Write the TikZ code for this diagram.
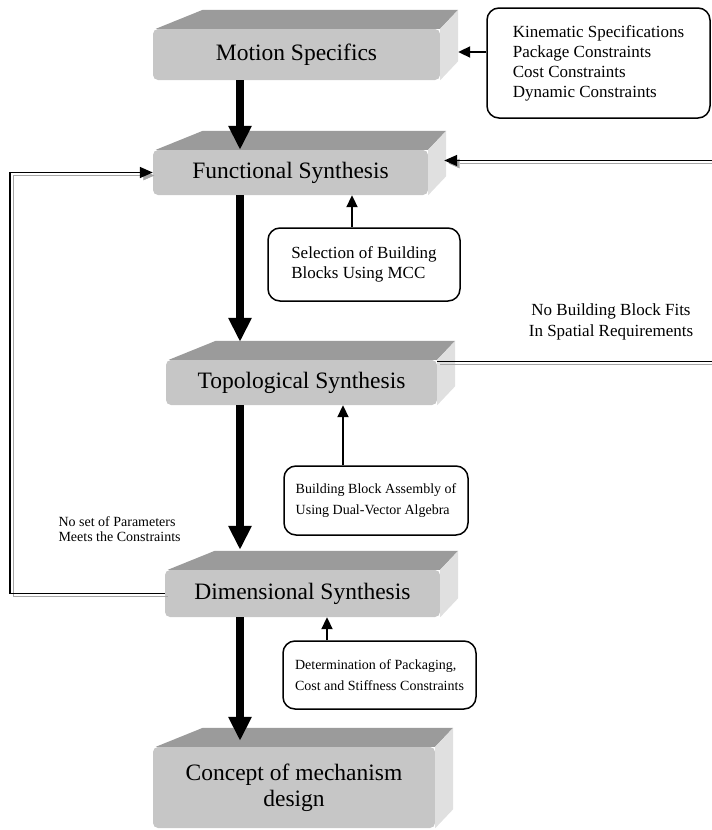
\documentclass[tikz,border=0pt]{standalone}
\usepackage{fontspec}
\setmainfont{Liberation Serif}
\usetikzlibrary{arrows.meta,calc}

\definecolor{frontgray}{HTML}{C6C6C6}
\definecolor{topgray}{HTML}{9B9B9B}
\definecolor{sidegray}{HTML}{E0E0E0}

\tikzset{
  block/.style={shape=rectangle, rounded corners=5pt, fill=frontgray, inner sep=0pt,
    align=center, font=\fontsize{23.5}{26}\selectfont},
  note/.style={shape=rectangle, draw, line width=1.5pt, rounded corners=12pt,
    align=left, inner ysep=0pt, inner xsep=6pt, font=\fontsize{17}{20}\selectfont},
  flow/.style={line width=8pt, -{Triangle[length=24pt,width=22pt]}},
  feed/.style={line width=2pt, -{Triangle[length=12pt,width=11pt]}},
  backline/.style={line width=1.5pt, -{Triangle[length=13pt,width=11pt]},
    preaction={draw=gray!70, transform canvas={shift={(3pt,-3pt)}}}}
}

\begin{document}
\begin{tikzpicture}[x=1pt, y=-1pt]
    \useasboundingbox (0,0) rectangle (712,830);

    % synthesis steps
    \node[block, minimum width=287pt, minimum height=51pt] (motion) at (296.5,54.5) {Motion Specifics};
    \node[block, minimum width=275pt, minimum height=45pt] (functional) at (290.5,172.5) {Functional Synthesis};
    \node[block, minimum width=271pt, minimum height=45pt] (topological) at (301.5,382.5) {Topological Synthesis};
    \node[block, minimum width=275pt, minimum height=47pt] (dimensional) at (302.5,593.5) {Dimensional Synthesis};
    \node[block, minimum width=282pt, minimum height=81pt] (concept) at (294,787.5) {Concept of mechanism\\design};

    % top and side faces
    \foreach \b in {motion,functional,topological,dimensional,concept} {
        \fill[topgray] ([xshift=3pt]\b.north west) -- ++(47,-19) -- ($(\b.north east)+(18,-19)$) -- (\b.north east) -- cycle;
        \fill[sidegray] (\b.north east) -- ++(18,-19) -- ($(\b.south east)+(18,-19)$) -- (\b.south east) -- cycle;
    }

    % side notes
    \node[note, minimum width=223pt, minimum height=110pt] (kin) at (598.5,63)
        {Kinematic Specifications\\Package Constraints\\Cost Constraints\\Dynamic Constraints};
    \node[note, minimum width=192pt, minimum height=73pt] (sel) at (364,264.5)
        {Selection of Building\\Blocks Using MCC};
    \node[note, minimum width=184pt, minimum height=69pt, font=\fontsize{14}{20.5}\selectfont] (asm) at (376,500.5)
        {Building Block Assembly of\\Using Dual-Vector Algebra};
    \node[note, minimum width=193pt, minimum height=68pt, font=\fontsize{14}{20.5}\selectfont] (det) at (379.5,675)
        {Determination of Packaging,\\Cost and Stiffness Constraints};

    \node[font=\fontsize{17}{21}\selectfont, align=center] (nofit) at (611,322) {No Building Block Fits\\ In Spatial Requirements};
    \node[font=\fontsize{14}{15}\selectfont, align=left, anchor=west] (noset) at (55,529) {No set of Parameters\\Meets the Constraints};

    % main flow
    \draw[flow] (motion.south -| 240,0) -- (functional.north -| 240,0);
    \draw[flow] (functional.south -| 240,0) -- ($(topological.north -| 240,0)+(0,-18)$);
    \draw[flow] (topological.south -| 240,0) -- ($(dimensional.north -| 240,0)+(0,-20)$);
    \draw[flow] (dimensional.south -| 240,0) -- ($(concept.north -| 240,0)+(0,-6)$);

    \draw[feed] (kin.west |- 0,52) -- ($(motion.east |- 0,52)+(18,0)$);
    \draw[feed] (sel.north -| 352,0) -- (functional.south -| 352,0);
    \draw[feed] (asm.north -| 343,0) -- (topological.south -| 343,0);
    \draw[feed] (det.north -| 327,0) -- (dimensional.south -| 327,0);

    % feedback loops
    \draw[backline] (dimensional.west) -- ++(-155,0) |- (functional.west);
    \draw[backline] ([yshift=21pt]topological.east) -- ++(290,0) |- ($(functional.east)+(16,-12)$);
\end{tikzpicture}
\end{document}
